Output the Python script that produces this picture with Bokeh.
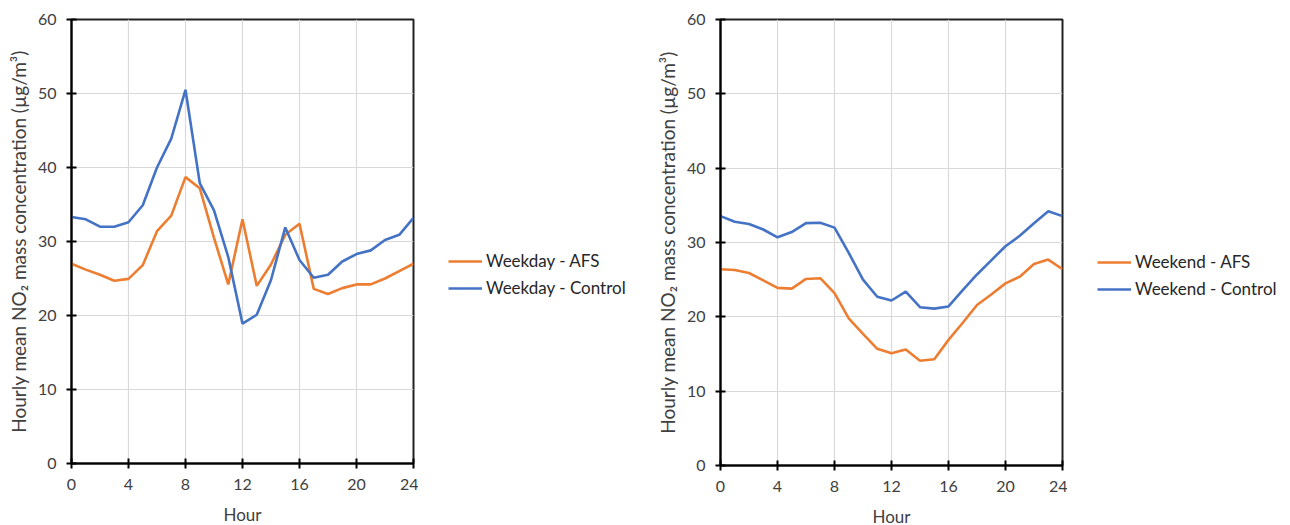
from bokeh.plotting import figure
from bokeh.models import Range1d, Legend, LegendItem, FixedTicker
from bokeh.layouts import row
from bokeh.embed import file_html
from bokeh.resources import INLINE

hours = list(range(25))
weekday_afs = [27.0, 26.2, 25.5, 24.7, 24.95, 26.8, 31.4, 33.5, 38.7, 37.2, 30.5, 24.2, 33.0,
               24.0, 26.9, 30.9, 32.4, 23.6, 22.9, 23.7, 24.2, 24.2, 25.0, 26.0, 27.0]
weekday_control = [33.3, 33.0, 32.0, 32.0, 32.6, 34.9, 40.0, 43.9, 50.5, 37.9, 34.2, 27.9, 18.9,
                   20.1, 24.8, 31.9, 27.5, 25.1, 25.5, 27.3, 28.3, 28.8, 30.2, 30.9, 33.2]
weekend_afs = [26.4, 26.3, 25.9, 24.9, 23.9, 23.8, 25.1, 25.2, 23.2, 19.8, 17.7, 15.7, 15.1,
               15.6, 14.1, 14.3, 16.9, 19.2, 21.6, 23.0, 24.5, 25.4, 27.1, 27.7, 26.4]
weekend_control = [33.55, 32.8, 32.5, 31.75, 30.7, 31.4, 32.6, 32.65, 32.0, 28.6, 25.0, 22.7, 22.2,
                   23.4, 21.3, 21.1, 21.4, 23.6, 25.7, 27.6, 29.5, 30.9, 32.6, 34.2, 33.55]
x_ticks = [0, 4, 8, 12, 16, 20, 24]
y_ticks = [0, 10, 20, 30, 40, 50, 60]

ORANGE = "#ED7D31"
BLUE = "#4472C4"
FONT = "Lato"
TXT = "#404040"
YLABEL = "Hourly mean NO\u2082 mass concentration (\u00b5g/m\u00b3)"
NAN = float("nan")


def make_panel(afs, control, left, fh, bottom):
    p = figure(frame_width=342, frame_height=fh, min_border_left=left, min_border_right=5,
               min_border_top=19, min_border_bottom=bottom, output_backend="svg",
               toolbar_location=None, x_range=Range1d(0, 24), y_range=Range1d(0, 60))
    p.line(hours, afs, line_color=ORANGE, line_width=2.6)
    p.line(hours, control, line_color=BLUE, line_width=2.6)
    for ax in (p.xaxis[0], p.yaxis[0]):
        ax.axis_line_color = "black"
        ax.axis_line_width = 2
        ax.major_tick_line_color = "black"
        ax.major_tick_line_width = 2
        ax.major_tick_in = 5
        ax.major_tick_out = 5
        ax.minor_tick_line_color = None
        ax.major_label_text_font = FONT
        ax.major_label_text_font_size = "16px"
        ax.major_label_text_color = TXT
        ax.axis_label_text_font = FONT
        ax.axis_label_text_font_style = "normal"
        ax.axis_label_text_color = TXT
    p.xaxis.axis_label_text_font_size = "17px"
    p.yaxis.axis_label_text_font_size = "19px"
    p.xaxis.ticker = FixedTicker(ticks=x_ticks)
    p.yaxis.ticker = FixedTicker(ticks=y_ticks)
    p.xaxis.axis_label = "Hour"
    p.yaxis.axis_label = YLABEL
    p.xaxis.major_label_standoff = 10
    p.yaxis.major_label_standoff = 10
    p.xaxis.axis_label_standoff = 11
    p.yaxis.axis_label_standoff = 5
    p.grid.grid_line_color = "#d9d9d9"
    p.grid.grid_line_width = 1.2
    p.outline_line_color = "#222222"
    p.outline_line_width = 2
    p.outline_line_alpha = 1
    return p


def make_legend(names, width, loc):
    q = figure(width=width, height=525, min_border=0, output_backend="svg",
               toolbar_location=None, x_axis_type=None, y_axis_type=None,
               x_range=Range1d(0, 1), y_range=Range1d(0, 1))
    q.outline_line_color = None
    q.grid.visible = False
    r1 = q.line(x=[NAN, NAN], y=[NAN, NAN], line_color=ORANGE, line_width=2.6)
    r2 = q.line(x=[NAN, NAN], y=[NAN, NAN], line_color=BLUE, line_width=2.6)
    legend = Legend(items=[LegendItem(label=names[0], renderers=[r1]),
                           LegendItem(label=names[1], renderers=[r2])],
                    location=loc, margin=0, padding=0, spacing=6,
                    glyph_width=34, glyph_height=20, label_standoff=4,
                    label_text_font=FONT, label_text_font_size="17px",
                    label_text_color="#262626", border_line_alpha=0,
                    background_fill_alpha=0)
    q.add_layout(legend, "center")
    return q


p1 = make_panel(weekday_afs, weekday_control, 71, 444, 62)
g1 = make_legend(["Weekday - AFS", "Weekday - Control"], 227, (30, 163))
p2 = make_panel(weekend_afs, weekend_control, 75, 446, 60)
g2 = make_legend(["Weekend - AFS", "Weekend - Control"], 223, (30, 162))

layout = row(p1, g1, p2, g2)
open("out.html", "w").write(file_html(layout, INLINE))
